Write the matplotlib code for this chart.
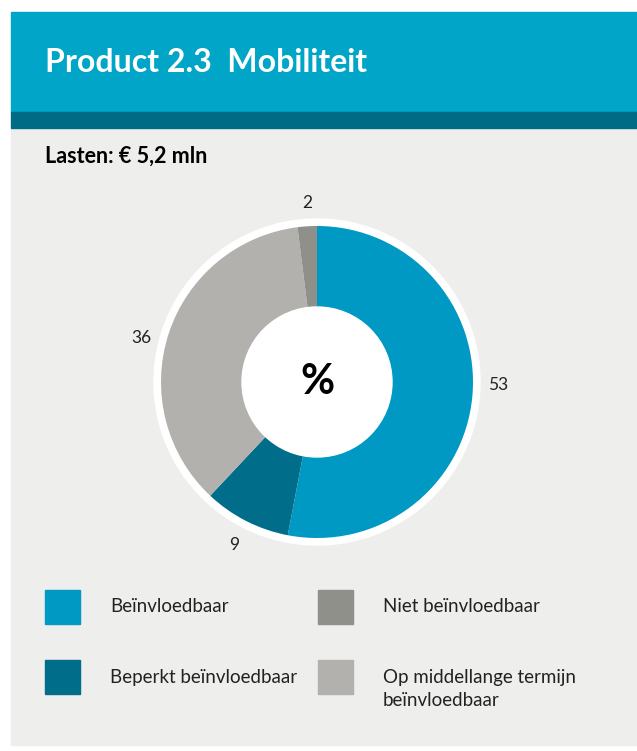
import matplotlib.pyplot as plt
from matplotlib.patches import Rectangle, Circle

# Data
categories = ['Beïnvloedbaar', 'Beperkt beïnvloedbaar',
              'Op middellange termijn\nbeïnvloedbaar', 'Niet beïnvloedbaar']
shares = [53, 9, 36, 2]
colors = ['#0099c4', '#006e8a', '#b2b1ad', '#90908b']

legend_order = [0, 3, 1, 2]  # left column, right column

W, H = 637, 751
plt.rcParams['font.family'] = ['Lato', 'DejaVu Sans']

fig = plt.figure(figsize=(W / 100, H / 100), dpi=100)
ax = fig.add_axes([0, 0, 1, 1])


def Y(y):
    # image y (top-down) to data y
    return H - y


# panel background + header
ax.add_patch(Rectangle((11, Y(745)), W - 11, 745 - 128, color='#eeeeed', zorder=0))
ax.add_patch(Rectangle((11, Y(112)), W - 11, 100, color='#00a5c8', zorder=0))
ax.add_patch(Rectangle((11, Y(128)), W - 11, 16, color='#006b85', zorder=0))

ax.text(45, Y(62), 'Product 2.3  Mobiliteit', color='white', fontsize=23,
        fontweight='bold', va='center', ha='left')
ax.text(45, Y(156), 'Lasten: € 5,2 mln', color='black', fontsize=15.5,
        fontweight='bold', va='center', ha='left')

# donut
cx, cy = 317, Y(382)
ax.add_patch(Circle((cx, cy), 163, color='white', zorder=1))
wedges, _ = ax.pie(shares, colors=colors, startangle=90, counterclock=False,
                   center=(cx, cy), radius=156,
                   wedgeprops=dict(width=156 - 75, linewidth=0))
for w in wedges:
    w.set_zorder(2)
ax.add_patch(Circle((cx, cy), 75, color='white', zorder=3))
ax.text(cx, cy, '%', fontsize=30, fontweight='bold', ha='center', va='center', zorder=4)

# value labels
label_pos = [(498, 385), (234, 545), (141, 338), (307, 203)]
for v, (lx, ly) in zip(shares, label_pos):
    ax.text(lx, Y(ly), str(v), fontsize=12.5, ha='center', va='center', color='#222222')

# legend
col_x = [45, 318]
row_y = [590, 660]
for k, idx in enumerate(legend_order):
    c, r = k % 2, k // 2
    x0, y0 = col_x[c], row_y[r]
    ax.add_patch(Rectangle((x0, Y(y0 + 34)), 35, 34, color=colors[idx], zorder=2))
    for j, line in enumerate(categories[idx].split('\n')):
        ax.text(x0 + 65, Y(y0 + 17 + 24 * j), line, fontsize=13.5, ha='left',
                va='center', color='#222222')

# pie() resets limits, so set them afterwards
ax.set_xlim(0, W)
ax.set_ylim(0, H)
ax.set_aspect('equal')
ax.axis('off')

fig.savefig('out.png', dpi=100)
